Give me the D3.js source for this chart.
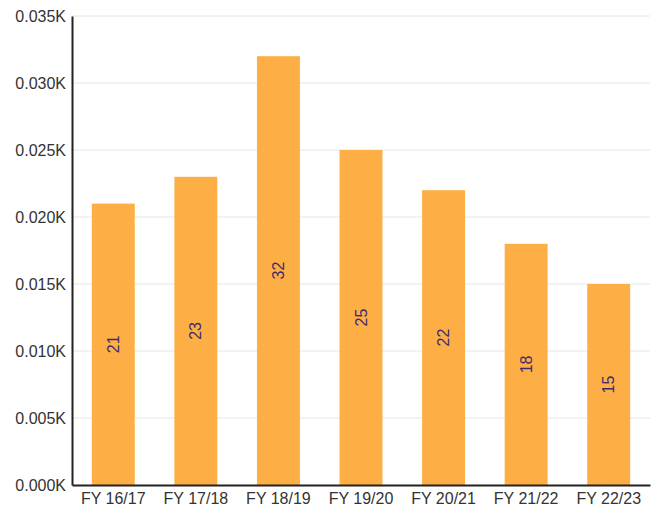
<!DOCTYPE html>
<html><head><meta charset="utf-8">
<script src="https://cdn.jsdelivr.net/npm/d3@7"></script>
<style>body{margin:0;background:#fff}svg{display:block}</style>
</head><body>
<script>
const categories = ["FY 16/17","FY 17/18","FY 18/19","FY 19/20","FY 20/21","FY 21/22","FY 22/23"];
const values = [21,23,32,25,22,18,15];
const yTicks = [0,5,10,15,20,25,30,35];

const W = 656, H = 514;
const x0 = 72, x1 = 650, yTop = 16, yBot = 485;
const svg = d3.select("body").append("svg").attr("width", W).attr("height", H);
const x = d3.scaleBand().domain(categories).range([x0, x1]).paddingInner(0.48).paddingOuter(0.24);
const y = d3.scaleLinear().domain([0, 35]).range([yBot, yTop]);
const font = "Liberation Sans, Arial, sans-serif";

// gridlines
svg.append("g").selectAll("line").data(yTicks.filter(d => d > 0)).join("line")
  .attr("x1", x0).attr("x2", x1).attr("y1", d => y(d)).attr("y2", d => y(d))
  .attr("stroke", "#e6e6e6").attr("stroke-width", 1);

// bars
svg.append("g").selectAll("rect").data(values).join("rect")
  .attr("x", (d, i) => x(categories[i])).attr("width", x.bandwidth())
  .attr("y", d => y(d)).attr("height", d => yBot - y(d))
  .attr("fill", "#fdae45");

// labels
svg.append("g").selectAll("text").data(values).join("text")
  .attr("transform", (d, i) => `translate(${x(categories[i]) + x.bandwidth()/2},${(y(d) + yBot)/2}) rotate(-90)`)
  .attr("text-anchor", "middle").attr("dominant-baseline", "central")
  .attr("font-family", font).attr("font-size", 16).attr("fill", "#3d2b6b")
  .text(d => d);

// y axis
const yAxis = d3.axisLeft(y).tickValues(yTicks).tickSize(0).tickPadding(6)
  .tickFormat(d => (d / 1000).toFixed(3) + "K");
const gy = svg.append("g").attr("transform", `translate(${x0},0)`).call(yAxis);
gy.select(".domain").attr("stroke", "#222").attr("stroke-width", 2);
gy.selectAll("text").attr("font-family", font).attr("font-size", 16).attr("fill", "#333");

// x axis
const xAxis = d3.axisBottom(x).tickSize(0).tickPadding(8);
const gx = svg.append("g").attr("transform", `translate(0,${yBot})`).call(xAxis);
gx.select(".domain").attr("stroke", "#222").attr("stroke-width", 2);
gx.selectAll("text").attr("font-family", font).attr("font-size", 16).attr("fill", "#333");
</script>
</body></html>
